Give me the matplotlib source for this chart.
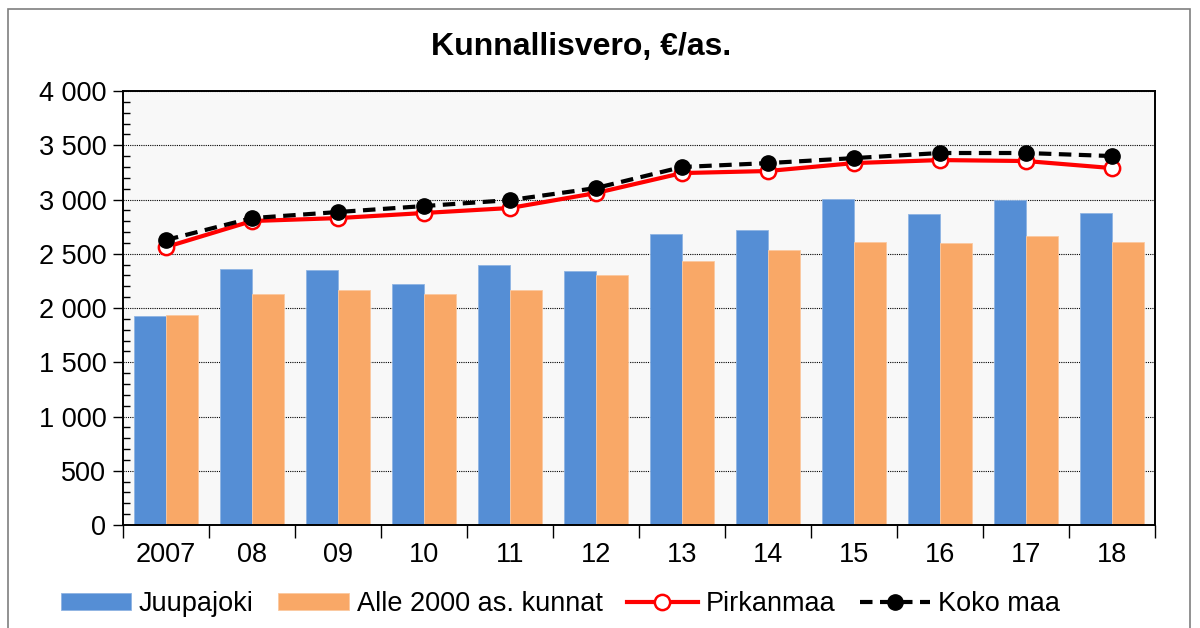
import numpy as np
import matplotlib
matplotlib.use("Agg")
from matplotlib import pyplot as plt
from matplotlib.ticker import MultipleLocator, FixedLocator, FuncFormatter
from matplotlib.patches import Rectangle

plt.rcParams['font.family'] = ['Liberation Sans', 'DejaVu Sans']

years = ['2007', '08', '09', '10', '11', '12', '13', '14', '15', '16', '17', '18']
juupajoki = [1926, 2359, 2350, 2221, 2396, 2341, 2682, 2719, 3005, 2866, 2995, 2876]
alle2000 = [1935, 2129, 2166, 2129, 2166, 2304, 2433, 2535, 2608, 2599, 2664, 2608]
pirkanmaa = [2562, 2802, 2829, 2876, 2922, 3060, 3244, 3263, 3336, 3364, 3355, 3290]
koko_maa = [2627, 2829, 2885, 2940, 2995, 3106, 3300, 3336, 3382, 3429, 3429, 3401]

fig = plt.figure(figsize=(12, 6.28), dpi=100)
ax = fig.add_axes([0.1025, 0.164, 0.86, 0.691])
ax.set_facecolor('#f8f8f8')

x = np.arange(len(years))
w = 0.37
b1 = ax.bar(x - w/2, juupajoki, w, color='#558ed5', edgecolor='#8fb4e3', linewidth=0.6,
            label='Juupajoki', zorder=2)
b2 = ax.bar(x + w/2, alle2000, w, color='#f9a867', edgecolor='#fbc9a0', linewidth=0.6,
            label='Alle 2000 as. kunnat', zorder=2)
l1, = ax.plot(x, pirkanmaa, color='#ff0000', lw=3, marker='o', ms=11,
              mfc='white', mec='#ff0000', mew=1.8, label='Pirkanmaa', zorder=3)
l2, = ax.plot(x, koko_maa, color='black', lw=3, ls=(0, (3, 1.8)), marker='o', ms=11,
              mfc='black', mec='black', label='Koko maa', zorder=4)

ax.set_xlim(-0.5, len(years) - 0.5)
ax.set_ylim(0, 4000)
ax.yaxis.set_major_locator(MultipleLocator(500))
ax.yaxis.set_minor_locator(MultipleLocator(100))
ax.yaxis.set_major_formatter(FuncFormatter(lambda v, p: f"{int(v):,}".replace(',', ' ')))
ax.grid(axis='y', which='major', color='black', ls=(0, (1, 1)), lw=0.8, zorder=1)
ax.set_axisbelow(True)

ax.xaxis.set_major_locator(FixedLocator(np.arange(-0.5, len(years), 1)))
ax.xaxis.set_minor_locator(FixedLocator(x))
ax.set_xticklabels([], minor=False)
ax.set_xticklabels(years, minor=True)
ax.tick_params(axis='x', which='major', length=9, width=1, direction='out')
ax.tick_params(axis='x', which='minor', length=0, pad=12, labelsize=19.5)
ax.tick_params(axis='y', which='major', length=7, width=1, direction='out', labelsize=19.5, pad=5)
ax.tick_params(axis='y', which='minor', length=5, width=1, direction='in')

for s in ax.spines.values():
    s.set_linewidth(1.4)
    s.set_color('black')

fig.text(0.484, 0.925, 'Kunnallisvero, €/as.', ha='center', va='center',
         fontsize=23, fontweight='bold')

fig.legend(handles=[b1, b2, l1, l2], loc='center', bbox_to_anchor=(0.467, 0.038), ncol=4,
           frameon=False, fontsize=19.5, handlelength=2.6, handletextpad=0.3,
           columnspacing=0.9, handleheight=0.6)

fig.patches.append(Rectangle((0.007, -0.01), 0.985, 0.996, transform=fig.transFigure,
                             fill=False, edgecolor='#7f7f7f', lw=1.2))

fig.savefig('out.png', dpi=100)
